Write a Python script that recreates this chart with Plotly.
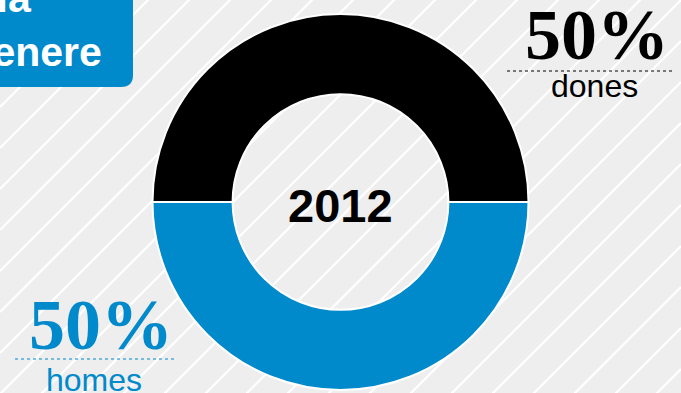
import plotly.graph_objects as go

# --- data ---
categories = ["dones", "homes"]
values = [50, 50]
slice_colors = ["#000000", "#0089cb"]
year_label = "2012"
title_lines = ["Evolució de la", "igualtat de genere"]

W, H = 681, 393
BG = "#eeeeee"
BLUE = "#0089cb"

total = sum(values)
shares = [round(v / total * 100) for v in values]

fig = go.Figure()

# diagonal white stripes over the grey background (lines x + y = c)
sx, sy = [], []
c = 148 - 41 * 4
while c < W + H + 41:
    sx += [0, W, None]
    sy += [c, c - W, None]
    c += 41
fig.add_trace(go.Scatter(x=sx, y=sy, mode="lines", line=dict(color="white", width=2.2),
                         hoverinfo="skip", showlegend=False))

# donut
cx, cy, r = 340.5, 202, 188
fig.add_trace(go.Pie(
    labels=categories, values=values, hole=0.574, sort=False, direction="clockwise",
    rotation=-90, marker=dict(colors=slice_colors, line=dict(color="white", width=2)),
    textinfo="none", hoverinfo="label+percent", showlegend=False,
    domain=dict(x=[(cx - r) / W, (cx + r) / W], y=[(H - cy - r) / H, (H - cy + r) / H]),
))

shapes = [
    # title box with rounded lower-right corner
    dict(type="path", xref="x", yref="y", layer="above",
         path="M -20,-20 L 133,-20 L 133,75 Q 133,87 121,87 L -20,87 Z",
         fillcolor=BLUE, line=dict(width=0)),
    # dotted rules under the percentages
    dict(type="line", xref="x", yref="y", x0=507, x1=673, y0=71, y1=71,
         line=dict(color="#000000", width=1, dash="dot")),
    dict(type="line", xref="x", yref="y", x0=15, x1=177, y0=359, y1=359,
         line=dict(color=BLUE, width=1, dash="dot")),
]

title_font = dict(family="Liberation Sans", size=41, color="white")
pct_font = dict(family="Liberation Serif", size=72)
annotations = [
    dict(text=f"<b>{title_lines[0]}</b>", x=34, y=23, xanchor="right", yanchor="bottom",
         font=title_font, showarrow=False),
    dict(text=f"<b>{title_lines[1]}</b>", x=104, y=52, xanchor="right", yanchor="middle",
         font=title_font, showarrow=False),
    dict(text=f"<b>{year_label}</b>", x=cx, y=205, xanchor="center", yanchor="middle",
         font=dict(family="Liberation Sans", size=47, color="black"), showarrow=False),
    dict(text=f"<b>{shares[0]}%</b>", x=597, y=35, xanchor="center", yanchor="middle",
         font=dict(pct_font, color="black"), showarrow=False),
    dict(text=categories[0], x=594, y=86, xanchor="center", yanchor="middle",
         font=dict(family="Liberation Sans", size=32, color="black"), showarrow=False),
    dict(text=f"<b>{shares[1]}%</b>", x=101, y=325, xanchor="center", yanchor="middle",
         font=dict(pct_font, color=BLUE), showarrow=False),
    dict(text=categories[1], x=94, y=380, xanchor="center", yanchor="middle",
         font=dict(family="Liberation Sans", size=32, color=BLUE), showarrow=False),
]

fig.update_layout(
    width=W, height=H, margin=dict(l=0, r=0, t=0, b=0),
    paper_bgcolor=BG, plot_bgcolor=BG,
    xaxis=dict(range=[0, W], visible=False, fixedrange=True),
    yaxis=dict(range=[H, 0], visible=False, fixedrange=True),
    shapes=shapes, annotations=annotations, showlegend=False,
)

fig.write_html("out.html")
